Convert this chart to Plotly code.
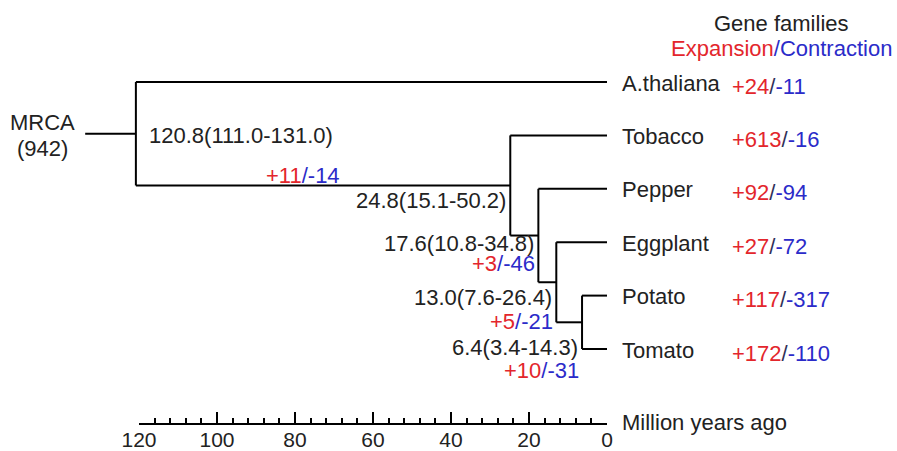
import plotly.graph_objects as go

# ---------------- data ----------------
taxa = ["A.thaliana", "Tobacco", "Pepper", "Eggplant", "Potato", "Tomato"]
tip_expansion = [24, 613, 92, 27, 117, 172]
tip_contraction = [11, 16, 94, 72, 317, 110]

node_ages = [120.8, 24.8, 17.6, 13.0, 6.4]          # Myr
node_ci_low = [111.0, 15.1, 10.8, 7.6, 3.4]
node_ci_high = [131.0, 50.2, 34.8, 26.4, 14.3]
branch_expansion = [None, 11, 3, 5, 10]              # on branch leading to node
branch_contraction = [None, 14, 46, 21, 31]
# children of each internal node: ("tip", i) or ("node", j)
node_children = [
    (("tip", 0), ("node", 1)),
    (("tip", 1), ("node", 2)),
    (("tip", 2), ("node", 3)),
    (("tip", 3), ("node", 4)),
    (("tip", 4), ("tip", 5)),
]
mrca_label = "MRCA"
mrca_families = 942
root_stem_age = 133.8
scale_max = 120
scale_major = 20
scale_minor = 4

# ---------------- style ----------------
RED = "#e3262c"
BLUE = "#2b2bc9"
SLASH = "#303058"
DARK = "#222222"
FONT = "Liberation Sans, Arial, sans-serif"
FS = 22
W, H = 897, 451
PX_AGE0 = 607.0      # pixel x of age 0
PX_AGE_MAX = 139.0   # pixel x of scale_max
PX_PER = (PX_AGE0 - PX_AGE_MAX) / scale_max
PY_TIP0 = 82.0
PY_STEP = 53.4
PY_SCALE = 424.0

x_left = PX_AGE0 / PX_PER
x_right = (PX_AGE0 - W) / PX_PER
y_top = -PY_TIP0 / PY_STEP
y_bot = (H - PY_TIP0) / PY_STEP

# ---------------- tree geometry ----------------
def child_pos(c):
    kind, i = c
    if kind == "tip":
        return 0.0, float(i)
    return node_ages[i], node_y(i)

def node_y(j):
    a, b = node_children[j]
    return (child_pos(a)[1] + child_pos(b)[1]) / 2.0

xs, ys = [], []
root_y = node_y(0)
xs += [root_stem_age, node_ages[0], None]
ys += [root_y, root_y, None]
for j, (a, b) in enumerate(node_children):
    age = node_ages[j]
    ya = child_pos(a)[1]
    yb = child_pos(b)[1]
    xs += [age, age, None]
    ys += [ya, yb, None]
    for c in (a, b):
        cx, cy = child_pos(c)
        xs += [age, cx, None]
        ys += [cy, cy, None]

fig = go.Figure()
fig.add_trace(go.Scatter(x=xs, y=ys, mode="lines",
                         line=dict(color="black", width=2),
                         hoverinfo="skip", showlegend=False))
# dummy trace for the time-scale axis
fig.add_trace(go.Scatter(x=[0, scale_max], y=[y_bot, y_bot], mode="markers",
                         marker=dict(opacity=0), xaxis="x2", yaxis="y",
                         hoverinfo="skip", showlegend=False))

def gl(e, c, slash=SLASH):
    return (f'<span style="color:{RED}">+{e}</span>'
            f'<span style="color:{slash}">/</span>'
            f'<span style="color:{BLUE}">-{c}</span>')

ann = []
def add(text, x, y, xanchor="left", xshift=0, yshift=0, size=FS, color=DARK, align="left"):
    ann.append(dict(text=text, x=x, y=y, xref="x", yref="y", xanchor=xanchor,
                    yanchor="middle", xshift=xshift, yshift=yshift, showarrow=False,
                    align=align, font=dict(family=FONT, size=size, color=color)))

# MRCA
add(mrca_label, root_stem_age, root_y, xanchor="center", xshift=-43, yshift=11)
add(f"({mrca_families})", root_stem_age, root_y, xanchor="center", xshift=-43, yshift=-15)

# node age labels
node_lbl_style = [("left", 11, -2), ("right", -2, -15), ("right", -2, -8),
                  ("right", -2, -15), ("right", -2, -25)]
branch_lbl_style = [None, (-168, 10), (-1, -28), (-1, -39), (-1, -48)]
for j, age in enumerate(node_ages):
    xa, xsft, ysft = node_lbl_style[j]
    add(f"{age:.1f}({node_ci_low[j]:.1f}-{node_ci_high[j]:.1f})", age, node_y(j),
        xanchor=xa, xshift=xsft, yshift=ysft)
    if branch_expansion[j] is not None:
        bx, by = branch_lbl_style[j]
        add(gl(branch_expansion[j], branch_contraction[j], BLUE), age, node_y(j),
            xanchor="right", xshift=bx, yshift=by)

# tips
for i, name in enumerate(taxa):
    add(name, 0, i, xshift=13, yshift=-1)
    add(gl(tip_expansion[i], tip_contraction[i]), 0, i, xshift=123, yshift=-4)

# header
ann.append(dict(text="Gene families", x=781 / W, y=1 - 23 / H, xref="paper", yref="paper",
                xanchor="center", yanchor="middle", showarrow=False,
                font=dict(family=FONT, size=FS, color=DARK)))
ann.append(dict(text=f'<span style="color:{RED}">Expansion</span>/'
                     f'<span style="color:{BLUE}">Contraction</span>',
                x=781 / W, y=1 - 48 / H, xref="paper", yref="paper",
                xanchor="center", yanchor="middle", showarrow=False,
                font=dict(family=FONT, size=FS, color=BLUE)))
# axis title
ann.append(dict(text="Million years ago", x=0, y=1 - (PY_SCALE - 2) / H,
                xref="x", yref="paper", xanchor="left", yanchor="middle", xshift=13,
                showarrow=False, font=dict(family=FONT, size=FS, color=DARK)))

fig.update_layout(
    width=W, height=H, margin=dict(l=0, r=0, t=0, b=0, pad=0, autoexpand=False),
    paper_bgcolor="white", plot_bgcolor="rgba(0,0,0,0)",
    showlegend=False, annotations=ann,
    xaxis=dict(range=[x_left, x_right], visible=False, fixedrange=True, automargin=False),
    yaxis=dict(range=[y_bot, y_top], visible=False, fixedrange=True, automargin=False),
    xaxis2=dict(domain=[PX_AGE_MAX / W, PX_AGE0 / W], range=[scale_max, 0],
                anchor="free", position=1 - PY_SCALE / H, side="bottom",
                automargin=False,
                showline=True, linecolor="black", linewidth=2,
                ticks="inside", ticklen=11, tickwidth=2, tickcolor="black",
                ticklabelstandoff=-3,
                dtick=scale_major, tick0=0, showgrid=False, zeroline=False,
                tickfont=dict(family=FONT, size=21, color=DARK),
                minor=dict(ticks="inside", ticklen=5, tickwidth=2, tickcolor="black",
                           dtick=scale_minor, showgrid=False),
                fixedrange=True),
)

fig.write_html("out.html")
